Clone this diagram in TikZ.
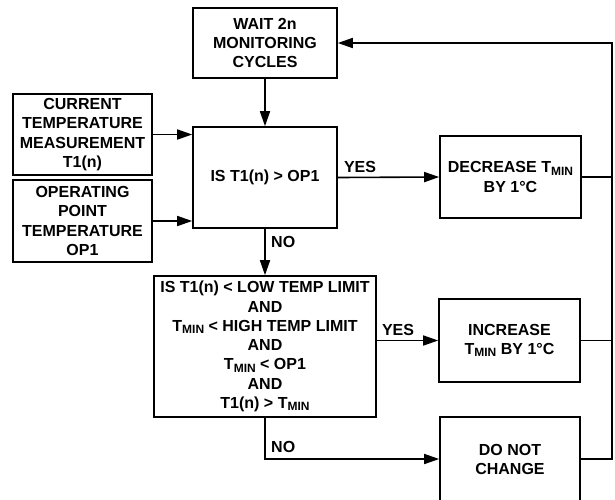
\documentclass[tikz,border=0pt]{standalone}
\usepackage{fontspec}
\setmainfont{Liberation Sans}
\usetikzlibrary{arrows.meta,positioning,calc}
\newcommand{\lowidx}[1]{\raisebox{-0.28ex}{\fontsize{12}{12}\selectfont #1}}
\newcommand{\tmin}{T\lowidx{MIN}}

\begin{document}
\begin{tikzpicture}[x=1pt,y=-1pt,
    font=\fontsize{16}{19.3}\selectfont\bfseries,
    flowbox/.style={draw,line width=1.6pt,align=center,inner sep=0pt},
    flowline/.style={line width=1.6pt},
    flowarrow/.style={flowline,-{Triangle[length=15pt,width=10pt]}},
    branch/.style={inner sep=0pt}]
  \useasboundingbox (0,0) rectangle (615,499);
  \clip (0,0) rectangle (615,499);

  % boxes
  \node[flowbox,minimum width=144pt,minimum height=70pt] (wait) at (265,43)
    {WAIT 2n\\MONITORING\\CYCLES};
  \node[flowbox,minimum width=139pt,minimum height=81pt] (current) at (82.5,134.5)
    {CURRENT\\TEMPERATURE\\MEASUREMENT\\T1(n)};
  \node[flowbox,minimum width=139pt,minimum height=82pt] (oppoint) at (82.5,221)
    {OPERATING\\POINT\\TEMPERATURE\\OP1};
  \node[flowbox,minimum width=144pt,minimum height=101pt] (testop) at (265,177.5)
    {IS T1(n) > OP1};
  \node[flowbox,minimum width=141pt,minimum height=82pt] (decrease) at (510.5,177)
    {DECREASE \tmin\\BY 1°C};
  \node[flowbox,minimum width=222pt,minimum height=141pt] (testlimit) at (265,346.5)
    {IS T1(n) < LOW TEMP LIMIT\\AND\\\tmin{} < HIGH TEMP LIMIT\\AND\\\tmin{} < OP1\\AND\\T1(n) > \tmin};
  \node[flowbox,minimum width=141pt,minimum height=83pt] (increase) at (509.5,340.5)
    {INCREASE\\\tmin{} BY 1°C};
  \node[flowbox,minimum width=140pt,minimum height=85pt] (keep) at (510,459.5)
    {DO NOT\\CHANGE};

  \coordinate (busbot) at (612,459);
  \coordinate (bustop) at (612,43);

  % connectors
  \draw[flowarrow] (wait.south) -- (testop.north);
  \draw[flowarrow] (current.east) -- (current.east -| testop.west);
  \draw[flowarrow] (oppoint.east) -- (oppoint.east -| testop.west);
  \draw[flowarrow] (testop.east) -- (decrease.west);
  \draw[flowarrow] (testop.south) -- (testlimit.north);
  \draw[flowarrow] (testlimit.east |- increase.west) -- (increase.west);
  \draw[flowarrow] (testlimit.south) -- (testlimit.south |- busbot) -- (keep.west |- busbot);
  \draw[flowline] (decrease.east) -- (decrease.east -| busbot);
  \draw[flowline] (increase.east) -- (increase.east -| busbot);
  \draw[flowarrow] (keep.east |- busbot) -- (busbot) -- (bustop) -- (wait.east);

  % branch labels
  \node[branch,anchor=south west] (yesop) at ([xshift=6pt,yshift=5pt]testop.east) {YES};
  \node[branch,anchor=north west] (noop) at ([xshift=6pt,yshift=-7pt]testop.south) {NO};
  \node[branch,anchor=south west] (yeslim) at ([xshift=5pt,yshift=5pt]testlimit.east |- increase.west) {YES};
  \node[branch,anchor=south west] (nolim) at ([xshift=6pt,yshift=6pt]testlimit.south |- busbot) {NO};
\end{tikzpicture}
\end{document}
